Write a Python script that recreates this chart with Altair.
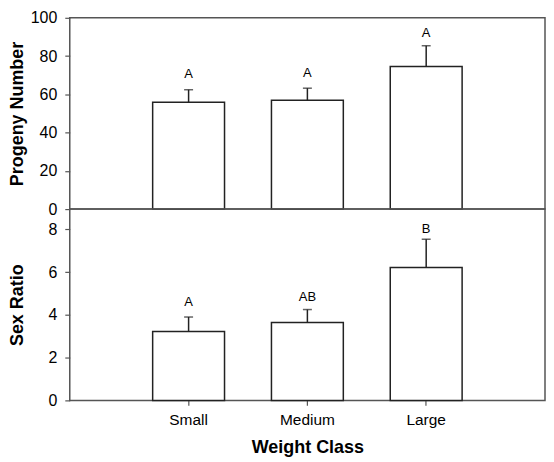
import altair as alt
import pandas as pd

classes = ["Small", "Medium", "Large"]
progeny_mean = [55.8, 56.9, 74.6]
progeny_upper = [62.4, 63.2, 85.4]
progeny_letters = ["A", "A", "A"]
progeny_letter_y = [68.7, 69.1, 89.8]

sex_mean = [3.22, 3.64, 6.22]
sex_upper = [3.90, 4.25, 7.54]
sex_letters = ["A", "AB", "B"]
sex_letter_y = [4.42, 4.65, 7.85]

top_df = pd.DataFrame({"cls": classes, "mean": progeny_mean, "upper": progeny_upper,
                       "letter": progeny_letters, "ly": progeny_letter_y})
bot_df = pd.DataFrame({"cls": classes, "mean": sex_mean, "upper": sex_upper,
                       "letter": sex_letters, "ly": sex_letter_y})

FONT = "Liberation Sans"
FRAME = "#555555"
W = 477


def panel(df, ytitle, ydomain, yvalues, height, show_x):
    xscale = alt.Scale(paddingInner=0.395, paddingOuter=0.6977)
    if show_x:
        xaxis = alt.Axis(title="Weight Class", labelAngle=0, domain=False, ticks=True,
                         tickSize=5, tickColor=FRAME, tickWidth=1.2, bandPosition=0.5,
                         labelFont=FONT, labelFontSize=15.5, labelColor="black",
                         labelPadding=7, titleFont=FONT, titleFontSize=18,
                         titleFontWeight="bold", titleColor="black", titlePadding=11)
    else:
        xaxis = None
    x = alt.X("cls:N", sort=classes, scale=xscale, axis=xaxis)
    yscale = alt.Scale(domain=ydomain, nice=False, zero=True)
    yaxis = alt.Axis(title=ytitle, values=yvalues, tickCount=len(yvalues), grid=False, domain=False,
                     tickSize=5, tickColor=FRAME, tickWidth=1.2,
                     labelOverlap=False, labelFlush=False,
                     labelFont=FONT, labelFontSize=16, labelColor="black",
                     labelPadding=8, minExtent=39, maxExtent=39,
                     titleFont=FONT, titleFontSize=18, titleFontWeight="bold",
                     titleColor="black", titlePadding=4)
    base = alt.Chart(df)
    bars = base.mark_bar(fill="white", stroke="#222222", strokeWidth=1.5).encode(
        x=x, y=alt.Y("mean:Q", scale=yscale, axis=yaxis))
    rule = base.mark_rule(color="#222222", strokeWidth=1.5).encode(
        x=x, y=alt.Y("mean:Q", scale=yscale, axis=yaxis), y2="upper:Q")
    cap = base.mark_tick(color="#222222", thickness=1.5, size=9).encode(
        x=x, y=alt.Y("upper:Q", scale=yscale, axis=yaxis))
    txt = base.mark_text(font=FONT, fontSize=13, color="black", baseline="alphabetic").encode(
        x=x, y=alt.Y("ly:Q", scale=yscale, axis=yaxis), text="letter:N")
    return alt.layer(bars, rule, cap, txt).properties(width=W, height=height)


top = panel(top_df, "Progeny Number", [0, 100], [0, 20, 40, 60, 80, 100], 192, False)
bot = panel(bot_df, "Sex Ratio", [0, 8.95], [0, 2, 4, 6, 8], 192, True)

chart = alt.vconcat(top, bot, spacing=0, bounds="flush").properties(
    padding={"left": 0, "top": 0, "right": 0, "bottom": 0}
).configure_view(stroke=FRAME, strokeWidth=1.5).configure_concat(spacing=0
).configure_axis(labelOverlap=False)

chart.save("out.html", embed_options={"renderer": "svg", "actions": False})
